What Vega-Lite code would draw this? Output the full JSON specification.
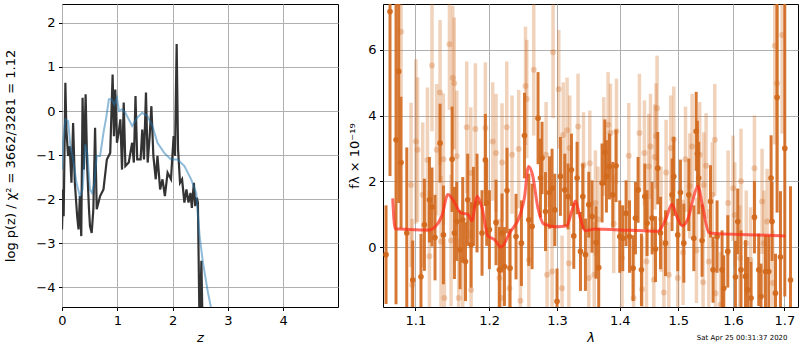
{
  "$schema": "https://vega.github.io/schema/vega-lite/v6.json",
  "background": "white",
  "padding": {"left": 4, "top": 1, "right": 1, "bottom": 0},
  "config": {
    "font": "DejaVu Sans",
    "view": {"stroke": "black", "strokeWidth": 1},
    "concat": {"spacing": 9},
    "axis": {
      "grid": true, "gridColor": "#b0b0b0", "gridWidth": 1, "domain": false,
      "tickColor": "black", "tickSize": 3.5, "tickWidth": 1,
      "labelFont": "DejaVu Sans", "labelFontSize": 13, "labelColor": "black", "labelPadding": 3.5, "labelFlush": false,
      "titleFont": "DejaVu Sans", "titleFontSize": 13, "titleFontWeight": "normal", "titleColor": "black"
    },
    "axisX": {"titlePadding": 4}
  },
  "title": {"text": "Sat Apr 25 00:31:37 2020", "orient": "bottom", "anchor": "end", "fontSize": 7, "fontWeight": "normal", "font": "DejaVu Sans", "color": "black", "offset": -11, "dx": -11},
  "datasets": {
    "pz": [
      {"z": 0.0, "p": -2.69}, {"z": 0.018, "p": -1.78}, {"z": 0.03, "p": -2.39}, {"z": 0.061, "p": 0.64}, {"z": 0.079, "p": -0.42},
      {"z": 0.11, "p": -1.02}, {"z": 0.14, "p": -0.8}, {"z": 0.171, "p": -1.63}, {"z": 0.201, "p": -0.27}, {"z": 0.232, "p": -1.63},
      {"z": 0.274, "p": -2.39}, {"z": 0.299, "p": -2.69}, {"z": 0.323, "p": -1.93}, {"z": 0.348, "p": -2.84}, {"z": 0.372, "p": 0.3},
      {"z": 0.396, "p": -1.33}, {"z": 0.427, "p": 0.38}, {"z": 0.457, "p": -1.33}, {"z": 0.488, "p": -2.23}, {"z": 0.506, "p": -2.61},
      {"z": 0.537, "p": -2.77}, {"z": 0.567, "p": -2.23}, {"z": 0.598, "p": -0.38}, {"z": 0.628, "p": -2.23}, {"z": 0.689, "p": -1.93},
      {"z": 0.75, "p": -1.78}, {"z": 0.811, "p": -1.1}, {"z": 0.872, "p": -0.95}, {"z": 0.915, "p": 0.83}, {"z": 0.939, "p": -0.57},
      {"z": 0.963, "p": 0.49}, {"z": 0.994, "p": -0.72}, {"z": 1.024, "p": -0.49}, {"z": 1.055, "p": -0.19}, {"z": 1.085, "p": -1.33},
      {"z": 1.116, "p": 0.19}, {"z": 1.146, "p": -1.25}, {"z": 1.207, "p": -1.17}, {"z": 1.268, "p": -0.72}, {"z": 1.299, "p": -1.17},
      {"z": 1.329, "p": 0.34}, {"z": 1.36, "p": -1.1}, {"z": 1.421, "p": -1.1}, {"z": 1.451, "p": -0.42}, {"z": 1.482, "p": -1.1},
      {"z": 1.518, "p": 0.42}, {"z": 1.549, "p": -1.17}, {"z": 1.585, "p": -0.57}, {"z": 1.616, "p": 0.11}, {"z": 1.652, "p": -1.02},
      {"z": 1.695, "p": -1.55}, {"z": 1.726, "p": -1.02}, {"z": 1.774, "p": -1.78}, {"z": 1.817, "p": -1.55}, {"z": 1.86, "p": -1.93},
      {"z": 1.909, "p": -1.4}, {"z": 1.97, "p": -1.55}, {"z": 2.018, "p": -0.57}, {"z": 2.043, "p": -1.02}, {"z": 2.073, "p": 1.52},
      {"z": 2.098, "p": -0.87}, {"z": 2.134, "p": -1.63}, {"z": 2.171, "p": -1.55}, {"z": 2.213, "p": -2.08}, {"z": 2.25, "p": -1.78},
      {"z": 2.287, "p": -2.08}, {"z": 2.323, "p": -1.86}, {"z": 2.348, "p": -2.2}, {"z": 2.384, "p": -1.63}, {"z": 2.409, "p": -2.16},
      {"z": 2.439, "p": -1.97}, {"z": 2.457, "p": -2.08}, {"z": 2.49, "p": -5.2}, {"z": 2.52, "p": -3.4}, {"z": 2.55, "p": -5.5},
      {"z": 2.6, "p": -6.5}
    ],
    "pzfit": [
      {"z": 0.0, "p": -1.33}, {"z": 0.018, "p": -0.72}, {"z": 0.061, "p": -0.19}, {"z": 0.11, "p": -0.23}, {"z": 0.152, "p": -0.8},
      {"z": 0.201, "p": -1.1}, {"z": 0.262, "p": -1.63}, {"z": 0.323, "p": -1.93}, {"z": 0.372, "p": -1.78}, {"z": 0.421, "p": -0.76},
      {"z": 0.457, "p": -0.95}, {"z": 0.506, "p": -1.78}, {"z": 0.543, "p": -1.86}, {"z": 0.585, "p": -1.63}, {"z": 0.628, "p": -1.02},
      {"z": 0.689, "p": -1.02}, {"z": 0.75, "p": -0.49}, {"z": 0.799, "p": -0.15}, {"z": 0.848, "p": 0.27}, {"z": 0.896, "p": 0.27},
      {"z": 0.945, "p": 0.15}, {"z": 0.994, "p": 0.3}, {"z": 1.03, "p": 0.0}, {"z": 1.085, "p": 0.04}, {"z": 1.146, "p": -0.04},
      {"z": 1.207, "p": -0.19}, {"z": 1.268, "p": -0.34}, {"z": 1.36, "p": -0.15}, {"z": 1.451, "p": -0.04}, {"z": 1.543, "p": -0.11},
      {"z": 1.634, "p": -0.34}, {"z": 1.726, "p": -0.72}, {"z": 1.848, "p": -0.95}, {"z": 1.97, "p": -1.1}, {"z": 2.091, "p": -1.1},
      {"z": 2.213, "p": -1.25}, {"z": 2.335, "p": -1.55}, {"z": 2.427, "p": -1.86}, {"z": 2.488, "p": -2.84}, {"z": 2.549, "p": -3.45},
      {"z": 2.64, "p": -4.13}, {"z": 2.713, "p": -4.58}
    ],
    "model": [
      {"w": 1.071, "f": 1.48}, {"w": 1.074, "f": 0.56}, {"w": 1.09, "f": 0.54}, {"w": 1.1175, "f": 0.52}, {"w": 1.126, "f": 0.62},
      {"w": 1.135, "f": 0.95}, {"w": 1.143, "f": 1.6}, {"w": 1.151, "f": 1.4}, {"w": 1.16, "f": 1.05}, {"w": 1.17, "f": 1.0},
      {"w": 1.176, "f": 0.8}, {"w": 1.183, "f": 1.55}, {"w": 1.19, "f": 1.2}, {"w": 1.198, "f": 0.35}, {"w": 1.208, "f": 0.22},
      {"w": 1.217, "f": 0.0}, {"w": 1.23, "f": 0.45}, {"w": 1.245, "f": 1.0}, {"w": 1.251, "f": 1.5}, {"w": 1.257, "f": 2.45},
      {"w": 1.263, "f": 2.2}, {"w": 1.271, "f": 1.2}, {"w": 1.28, "f": 0.7}, {"w": 1.3, "f": 0.62}, {"w": 1.315, "f": 0.65},
      {"w": 1.323, "f": 1.1}, {"w": 1.3286, "f": 1.4}, {"w": 1.336, "f": 0.9}, {"w": 1.344, "f": 0.5}, {"w": 1.36, "f": 0.55},
      {"w": 1.4, "f": 0.52}, {"w": 1.44, "f": 0.5}, {"w": 1.464, "f": 0.48}, {"w": 1.478, "f": 0.85}, {"w": 1.489, "f": 1.3},
      {"w": 1.497, "f": 0.95}, {"w": 1.507, "f": 0.65}, {"w": 1.518, "f": 0.9}, {"w": 1.527, "f": 1.5}, {"w": 1.535, "f": 1.85},
      {"w": 1.543, "f": 1.3}, {"w": 1.555, "f": 0.45}, {"w": 1.562, "f": 0.42}, {"w": 1.6, "f": 0.39}, {"w": 1.65, "f": 0.37},
      {"w": 1.702, "f": 0.34}
    ],
    "dark": [
      {"w": 1.0626, "f": -0.23, "e": 1.5}, {"w": 1.0676, "f": 7.16, "e": 5}, {"w": 1.0752, "f": 3.26, "e": 5}, {"w": 1.0786, "f": 5.34, "e": 4},
      {"w": 1.0816, "f": 2.57, "e": 2}, {"w": 1.0889, "f": 0.43, "e": 2.6}, {"w": 1.0966, "f": -1.0, "e": 1.2}, {"w": 1.1073, "f": -0.9, "e": 1.3},
      {"w": 1.1118, "f": 0.68, "e": 1.4}, {"w": 1.1184, "f": 1.44, "e": 1.3}, {"w": 1.1218, "f": 1.22, "e": 1.2}, {"w": 1.1258, "f": 0.29, "e": 1.3},
      {"w": 1.1325, "f": 3.16, "e": 1.2}, {"w": 1.137, "f": 0.37, "e": 1.5}, {"w": 1.1487, "f": 2.67, "e": 1.6}, {"w": 1.1519, "f": 0.43, "e": 1.4},
      {"w": 1.155, "f": 0.78, "e": 1.2}, {"w": 1.1595, "f": -0.08, "e": 1.2}, {"w": 1.1632, "f": 0.83, "e": 1.3}, {"w": 1.167, "f": -0.44, "e": 1.2},
      {"w": 1.1701, "f": 1.44, "e": 1.4}, {"w": 1.1747, "f": 0.07, "e": 1.3}, {"w": 1.178, "f": 1.24, "e": 1.2}, {"w": 1.183, "f": 1.34, "e": 1.5},
      {"w": 1.19, "f": 0.43, "e": 1.3}, {"w": 1.1947, "f": 2.65, "e": 1.4}, {"w": 1.1966, "f": 1.34, "e": 1.3}, {"w": 1.2004, "f": 0.53, "e": 1.2},
      {"w": 1.2098, "f": 0.75, "e": 1.3}, {"w": 1.2146, "f": -0.69, "e": 1.3}, {"w": 1.2184, "f": 0.43, "e": 1.2}, {"w": 1.2219, "f": -0.59, "e": 1.2},
      {"w": 1.2256, "f": 1.72, "e": 1.3}, {"w": 1.23, "f": -0.64, "e": 1.2}, {"w": 1.2387, "f": 0.32, "e": 1.3}, {"w": 1.2466, "f": 0.12, "e": 1.3},
      {"w": 1.2511, "f": 3.39, "e": 1.3}, {"w": 1.2575, "f": 0.83, "e": 1.4}, {"w": 1.2624, "f": 0.63, "e": 1.3}, {"w": 1.2713, "f": 3.92, "e": 1.4},
      {"w": 1.2749, "f": 2.1, "e": 1.2}, {"w": 1.2773, "f": 2.71, "e": 1.1}, {"w": 1.2825, "f": 1.08, "e": 1.2}, {"w": 1.2886, "f": 1.66, "e": 1.1},
      {"w": 1.2925, "f": 1.79, "e": 1.2}, {"w": 1.2966, "f": 1.13, "e": 1.1}, {"w": 1.3001, "f": -1.65, "e": 1.0}, {"w": 1.3053, "f": 2.15, "e": 1.2},
      {"w": 1.312, "f": 1.74, "e": 1.1}, {"w": 1.3171, "f": 1.54, "e": 1.0}, {"w": 1.3224, "f": 2.35, "e": 1.1}, {"w": 1.326, "f": 0.34, "e": 1.0},
      {"w": 1.3312, "f": 2.1, "e": 1.1}, {"w": 1.3365, "f": -0.13, "e": 1.2}, {"w": 1.3402, "f": 1.54, "e": 1.0}, {"w": 1.3444, "f": -0.23, "e": 1.1},
      {"w": 1.3497, "f": 1.29, "e": 1.0}, {"w": 1.3549, "f": 0.93, "e": 1.1}, {"w": 1.3613, "f": 0.14, "e": 1.1}, {"w": 1.3656, "f": -0.62, "e": 1.2},
      {"w": 1.371, "f": 1.95, "e": 1.2}, {"w": 1.3754, "f": 2.88, "e": 1.0}, {"w": 1.3781, "f": 2.15, "e": 1.1}, {"w": 1.383, "f": 2.45, "e": 1.0},
      {"w": 1.3884, "f": 1.59, "e": 1.0}, {"w": 1.3938, "f": 2.47, "e": 1.1}, {"w": 1.3999, "f": 0.32, "e": 1.1}, {"w": 1.4049, "f": 0.27, "e": 1.0},
      {"w": 1.4104, "f": 1.03, "e": 1.0}, {"w": 1.4161, "f": 0.32, "e": 1.1}, {"w": 1.4221, "f": -0.64, "e": 1.0}, {"w": 1.4261, "f": 0.88, "e": 1.1},
      {"w": 1.4305, "f": 1.74, "e": 1.0}, {"w": 1.4362, "f": -0.69, "e": 1.1}, {"w": 1.4419, "f": 1.54, "e": 1.0}, {"w": 1.4458, "f": 0.73, "e": 1.0},
      {"w": 1.4544, "f": 0.88, "e": 1.1}, {"w": 1.4602, "f": -0.06, "e": 1.0}, {"w": 1.4641, "f": 2.4, "e": 1.1}, {"w": 1.4688, "f": 0.43, "e": 1.1},
      {"w": 1.4775, "f": 0.12, "e": 1.0}, {"w": 1.489, "f": 1.59, "e": 1.1}, {"w": 1.492, "f": 2.15, "e": 1.2}, {"w": 1.499, "f": 0.37, "e": 1.1},
      {"w": 1.5038, "f": 1.66, "e": 1.0}, {"w": 1.5098, "f": 0.12, "e": 1.2}, {"w": 1.5187, "f": 1.59, "e": 1.1}, {"w": 1.5277, "f": 0.27, "e": 1.0},
      {"w": 1.532, "f": 3.52, "e": 1.2}, {"w": 1.5342, "f": 2.84, "e": 1.0}, {"w": 1.5366, "f": 2.1, "e": 1.1}, {"w": 1.5427, "f": 0.2, "e": 1.1},
      {"w": 1.5581, "f": 1.39, "e": 1.1}, {"w": 1.5628, "f": -0.69, "e": 1.0}, {"w": 1.5702, "f": 0.32, "e": 1.1}, {"w": 1.5795, "f": -0.69, "e": 1.2},
      {"w": 1.5827, "f": -1.25, "e": 1.0}, {"w": 1.5902, "f": -0.13, "e": 1.1}, {"w": 1.6046, "f": -0.91, "e": 1.1}, {"w": 1.609, "f": 0.78, "e": 1.0},
      {"w": 1.6152, "f": -0.69, "e": 1.2}, {"w": 1.6237, "f": -0.89, "e": 1.1}, {"w": 1.6281, "f": -1.3, "e": 1.0}, {"w": 1.6345, "f": -1.55, "e": 1.1},
      {"w": 1.641, "f": 0.91, "e": 1.1}, {"w": 1.6493, "f": -0.69, "e": 1.1}, {"w": 1.6538, "f": -1.5, "e": 1.0}, {"w": 1.6625, "f": -0.74, "e": 1.1},
      {"w": 1.669, "f": -0.74, "e": 1.1}, {"w": 1.6735, "f": 2.1, "e": 1.3}, {"w": 1.6755, "f": 0.78, "e": 1.2}, {"w": 1.6822, "f": -1.4, "e": 1.2},
      {"w": 1.6854, "f": 4.55, "e": 3.5}, {"w": 1.6921, "f": -0.3, "e": 2.0}, {"w": 1.7008, "f": 3.0, "e": 4.5}, {"w": 1.7123, "f": -1.0, "e": 2.85}
    ],
    "light": [
      {"w": 1.0816, "f": 6.55, "e": 2.0}, {"w": 1.1007, "f": 3.21, "e": 2.5}, {"w": 1.1029, "f": 2.96, "e": 2.2}, {"w": 1.1158, "f": 2.65, "e": 2.2},
      {"w": 1.1218, "f": 5.52, "e": 2.0}, {"w": 1.128, "f": 2.96, "e": 2.0}, {"w": 1.1325, "f": 4.7, "e": 2.2}, {"w": 1.137, "f": 2.67, "e": 2.0},
      {"w": 1.1451, "f": 6.17, "e": 2.0}, {"w": 1.1496, "f": 5.14, "e": 2.2}, {"w": 1.1516, "f": 4.98, "e": 2.0}, {"w": 1.1551, "f": 2.76, "e": 2.0},
      {"w": 1.1687, "f": 3.64, "e": 2.0}, {"w": 1.1743, "f": 2.25, "e": 2.0}, {"w": 1.1807, "f": 3.59, "e": 2.0}, {"w": 1.1947, "f": 3.62, "e": 2.0},
      {"w": 1.2051, "f": 3.21, "e": 1.8}, {"w": 1.2098, "f": 2.86, "e": 1.8}, {"w": 1.2184, "f": 2.57, "e": 1.8}, {"w": 1.2252, "f": 3.64, "e": 2.0},
      {"w": 1.2329, "f": 2.81, "e": 1.8}, {"w": 1.2426, "f": 2.98, "e": 1.8}, {"w": 1.1383, "f": -1.55, "e": 1.8}, {"w": 1.1577, "f": -1.55, "e": 1.8},
      {"w": 1.1747, "f": -1.3, "e": 1.8}, {"w": 1.2146, "f": -0.94, "e": 1.8}, {"w": 1.2291, "f": -1.25, "e": 1.8}, {"w": 1.2169, "f": -1.55, "e": 1.6},
      {"w": 1.0958, "f": -1.14, "e": 2.0}, {"w": 1.1184, "f": -0.28, "e": 2.0}, {"w": 1.1338, "f": 0.17, "e": 2.0}, {"w": 1.1473, "f": 0.2, "e": 2.0},
      {"w": 1.1632, "f": -0.38, "e": 1.8}, {"w": 1.1096, "f": 1.59, "e": 2.2}, {"w": 1.0944, "f": 1.89, "e": 2.5},
      {"w": 1.2526, "f": 4.9, "e": 1.8}, {"w": 1.2545, "f": 4.5, "e": 1.8}, {"w": 1.2649, "f": 5.39, "e": 2.0}, {"w": 1.294, "f": 5.92, "e": 2.0},
      {"w": 1.3027, "f": 4.8, "e": 1.8}, {"w": 1.2834, "f": 2.81, "e": 1.6}, {"w": 1.3156, "f": 3.55, "e": 1.6}, {"w": 1.3097, "f": 3.41, "e": 1.6},
      {"w": 1.3327, "f": 3.67, "e": 1.6}, {"w": 1.3198, "f": 3.01, "e": 1.6}, {"w": 1.3413, "f": 2.5, "e": 1.6}, {"w": 1.3513, "f": 2.55, "e": 1.6},
      {"w": 1.3603, "f": 1.34, "e": 1.6}, {"w": 1.3645, "f": 0.85, "e": 1.6}, {"w": 1.3808, "f": 3.72, "e": 1.6}, {"w": 1.3847, "f": 3.47, "e": 1.5},
      {"w": 1.3945, "f": 3.52, "e": 1.6}, {"w": 1.3737, "f": 3.06, "e": 1.5}, {"w": 1.4149, "f": 2.78, "e": 1.6}, {"w": 1.4328, "f": 3.47, "e": 1.8},
      {"w": 1.4413, "f": 2.86, "e": 1.6}, {"w": 1.4487, "f": 2.45, "e": 1.6}, {"w": 1.4516, "f": 3.06, "e": 1.6}, {"w": 1.4612, "f": 3.38, "e": 1.6},
      {"w": 1.4629, "f": 4.22, "e": 1.6}, {"w": 1.39, "f": 0.71, "e": 1.5}, {"w": 1.2925, "f": -0.74, "e": 1.6}, {"w": 1.2849, "f": -0.84, "e": 1.6},
      {"w": 1.3078, "f": -1.25, "e": 1.6}, {"w": 1.3183, "f": -0.49, "e": 1.6}, {"w": 1.3497, "f": -0.94, "e": 1.6}, {"w": 1.3584, "f": -0.84, "e": 1.6},
      {"w": 1.4229, "f": -1.55, "e": 1.6}, {"w": 1.4373, "f": -1.28, "e": 1.6}, {"w": 1.2451, "f": -1.63, "e": 1.8}, {"w": 1.2575, "f": -0.39, "e": 1.8},
      {"w": 1.4448, "f": -0.44, "e": 1.6}, {"w": 1.4573, "f": -0.99, "e": 1.6}, {"w": 1.4037, "f": -0.33, "e": 1.6},
      {"w": 1.459, "f": 2.74, "e": 1.6}, {"w": 1.492, "f": 3.28, "e": 1.6}, {"w": 1.4867, "f": 3.01, "e": 1.6}, {"w": 1.5128, "f": 2.67, "e": 1.6},
      {"w": 1.5247, "f": 3.06, "e": 1.6}, {"w": 1.5384, "f": 2.81, "e": 1.6}, {"w": 1.55, "f": 2.47, "e": 1.6}, {"w": 1.566, "f": 3.26, "e": 1.7},
      {"w": 1.4786, "f": 2.27, "e": 1.6}, {"w": 1.5205, "f": 1.86, "e": 1.6}, {"w": 1.5457, "f": 1.89, "e": 1.6}, {"w": 1.5614, "f": 1.59, "e": 1.6},
      {"w": 1.5908, "f": 1.34, "e": 1.6}, {"w": 1.6001, "f": 1.79, "e": 1.6}, {"w": 1.6152, "f": 2.0, "e": 1.6}, {"w": 1.6033, "f": 0.98, "e": 1.6},
      {"w": 1.641, "f": 2.4, "e": 1.6}, {"w": 1.6558, "f": 1.39, "e": 1.6}, {"w": 1.6657, "f": 0.78, "e": 1.6}, {"w": 1.6854, "f": 4.98, "e": 3.0},
      {"w": 1.6808, "f": 6.12, "e": 3.0}, {"w": 1.6954, "f": 6.45, "e": 3.0}, {"w": 1.4833, "f": -0.84, "e": 1.6}, {"w": 1.499, "f": -0.94, "e": 1.6},
      {"w": 1.4747, "f": -1.38, "e": 1.6}, {"w": 1.5445, "f": -1.07, "e": 1.6}, {"w": 1.555, "f": -0.44, "e": 1.6}, {"w": 1.5765, "f": -1.75, "e": 1.6},
      {"w": 1.5672, "f": -1.4, "e": 1.6}, {"w": 1.6334, "f": -0.39, "e": 1.6}, {"w": 1.6252, "f": 0.12, "e": 1.6}, {"w": 1.6128, "f": -0.33, "e": 1.6},
      {"w": 1.6593, "f": 0.12, "e": 1.6}, {"w": 1.6769, "f": -1.09, "e": 1.6}, {"w": 1.5325, "f": -0.1, "e": 1.6}, {"w": 1.5085, "f": -0.16, "e": 1.6},
      {"w": 1.4698, "f": 0.85, "e": 1.6}
    ]
  },
  "hconcat": [
    {
      "width": 276,
      "height": 303,
      "encoding": {
        "x": {"field": "z", "type": "quantitative", "scale": {"domain": [0, 4.99], "nice": false, "zero": false},
              "axis": {"values": [0, 1, 2, 3, 4], "title": "z", "titleFontStyle": "italic"}},
        "y": {"field": "p", "type": "quantitative", "scale": {"domain": [-4.45, 2.43], "nice": false, "zero": false},
              "axis": {"values": [-4, -3, -2, -1, 0, 1, 2], "title": "log p(z) / χ² = 3662/3281 = 1.12", "titlePadding": 18}}
      },
      "layer": [
        {"data": {"name": "pz"}, "mark": {"type": "line", "color": "#333333", "strokeWidth": 2.2, "clip": true}},
        {"data": {"name": "pzfit"}, "mark": {"type": "line", "color": "#1f77b4", "opacity": 0.5, "strokeWidth": 2, "clip": true}},
        {"data": {"values": [{}]},
         "mark": {"type": "text", "align": "right", "baseline": "top", "fontSize": 12, "lineHeight": 15, "color": "black", "font": "DejaVu Sans"},
         "encoding": {"x": {"datum": 4.72}, "y": {"datum": 2.19}, "text": {"value": ["j161312p5650", "ID=262\u00a0\u00a0\u00a0\u00a0z=2.0701"]}}}
      ]
    },
    {
      "width": 415,
      "height": 303,
      "encoding": {
        "x": {"field": "w", "type": "quantitative", "scale": {"type": "log", "domain": [1.0588, 1.7275], "nice": false},
              "axis": {"values": [1.1, 1.2, 1.3, 1.4, 1.5, 1.6, 1.7], "format": ".1f", "title": "λ", "titleFontStyle": "italic"}}
      },
      "layer": [
        {"data": {"name": "light"},
         "mark": {"type": "errorbar", "color": "#d2691e", "opacity": 0.3, "thickness": 3.5, "ticks": false},
         "encoding": {"y": {"field": "f", "type": "quantitative", "scale": {"domain": [-1.82, 7.39], "nice": false, "zero": false, "clamp": true},
                            "axis": {"values": [0, 2, 4, 6], "title": "fλ × 10⁻¹⁹", "titlePadding": 6}},
                      "yError": {"field": "e"}}},
        {"data": {"name": "light"},
         "mark": {"type": "circle", "color": "#d2691e", "opacity": 0.3, "size": 36},
         "encoding": {"y": {"field": "f", "type": "quantitative", "axis": {"values": [0, 2, 4, 6], "title": "fλ × 10⁻¹⁹", "titlePadding": 6}}}},
        {"data": {"name": "dark"},
         "mark": {"type": "errorbar", "color": "#d2691e", "opacity": 0.9, "thickness": 3, "ticks": false},
         "encoding": {"y": {"field": "f", "type": "quantitative", "axis": {"values": [0, 2, 4, 6], "title": "fλ × 10⁻¹⁹", "titlePadding": 6}},
                      "yError": {"field": "e"}}},
        {"data": {"name": "dark"},
         "mark": {"type": "circle", "color": "#d2691e", "opacity": 0.95, "size": 32},
         "encoding": {"y": {"field": "f", "type": "quantitative", "axis": {"values": [0, 2, 4, 6], "title": "fλ × 10⁻¹⁹", "titlePadding": 6}}}},
        {"data": {"name": "model"},
         "mark": {"type": "line", "color": "#ff2a1a", "opacity": 0.7, "strokeWidth": 3, "interpolate": "monotone"},
         "encoding": {"y": {"field": "f", "type": "quantitative", "axis": {"values": [0, 2, 4, 6], "title": "fλ × 10⁻¹⁹", "titlePadding": 6}}}},
        {"data": {"values": [{}]},
         "mark": {"type": "rule", "color": "black", "strokeDash": [2, 2.5], "strokeWidth": 1.5},
         "encoding": {"y": {"datum": 0}}}
      ]
    }
  ]
}
